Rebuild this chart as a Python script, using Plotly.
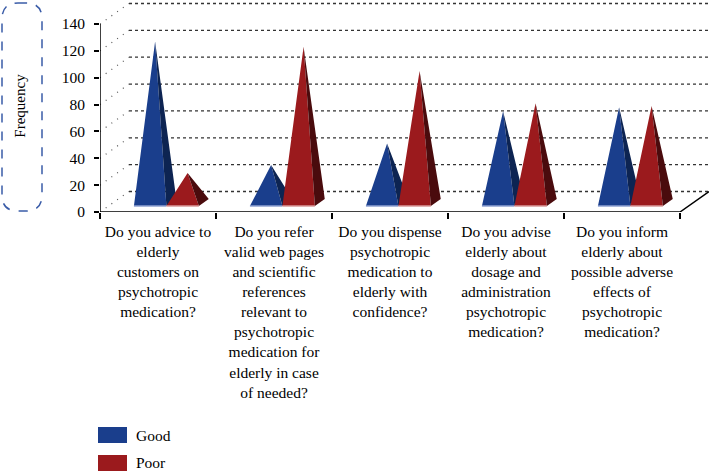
import plotly.graph_objects as go

# data
categories = [
    "Do you advice to<br>elderly<br>customers on<br>psychotropic<br>medication?",
    "Do you refer<br>valid web pages<br>and scientific<br>references<br>relevant to<br>psychotropic<br>medication for<br>elderly in case<br>of needed?",
    "Do you dispense<br>psychotropic<br>medication to<br>elderly with<br>confidence?",
    "Do you advise<br>elderly about<br>dosage and<br>administration<br>psychotropic<br>medication?",
    "Do you inform<br>elderly about<br>possible adverse<br>effects of<br>psychotropic<br>medication?",
]
good_values = [120, 28, 44, 68, 71]
poor_values = [22, 116, 98, 74, 72]
y_ticks = [0, 20, 40, 60, 80, 100, 120, 140]
series_names = ["Good", "Poor"]

FONT = "Liberation Serif, Times New Roman, serif"

# page geometry (pixels)
W, H = 709, 471
LEFT, BOTTOM = 100, 259
PLOT_W, PLOT_H = W - LEFT, H - BOTTOM
CAT_PX = 116            # one category band
UNIT_PX = 188 / 140     # one frequency unit
X_MAX = PLOT_W / CAT_PX
Y_MAX = PLOT_H / UNIT_PX

# fake 3d depth of the floor, in data units
DX = 29 / CAT_PX
DY = 20.5 / UNIT_PX
PW = 0.28               # pyramid front width
T0, T1 = 0.29, 0.63     # pyramid base front/back depth
TM = (T0 + T1) / 2

colors = {
    "Good": ("#1a3e8c", "#0d2452", "#8fa2d2"),
    "Poor": ("#9b1a1d", "#4a0b0d", "#d89a9a"),
}


def pyramids(values, shift):
    fx, fy, sx, sy, bx, by = [], [], [], [], [], []
    for i, v in enumerate(values):
        xl = i + 0.5 + shift
        fl = (xl + T0 * DX, T0 * DY)
        fr = (xl + PW + T0 * DX, T0 * DY)
        br = (xl + PW + T1 * DX, T1 * DY)
        apex = (xl + PW / 2 + TM * DX, TM * DY + v)
        fx += [fl[0], fr[0], apex[0], fl[0], None]
        fy += [fl[1], fr[1], apex[1], fl[1], None]
        sx += [fr[0], br[0], apex[0], fr[0], None]
        sy += [fr[1], br[1], apex[1], fr[1], None]
        bx += [fl[0], fr[0], None]
        by += [fl[1], fr[1], None]
    return fx, fy, sx, sy, bx, by


fig = go.Figure()

# back wall grid lines
for v in y_ticks:
    fig.add_trace(go.Scatter(
        x=[DX, X_MAX], y=[v + DY, v + DY], mode="lines",
        line=dict(color="#333333", width=1.3, dash="dot"),
        hoverinfo="skip", showlegend=False,
    ))
    # side wall
    fig.add_trace(go.Scatter(
        x=[0, DX], y=[v, v + DY], mode="lines",
        line=dict(color="#555555", width=1.2, dash="1px,6px"),
        hoverinfo="skip", showlegend=False,
    ))

# floor edge and y axis line
fig.add_trace(go.Scatter(
    x=[0, len(categories), len(categories) + DX], y=[0, 0, DY], mode="lines",
    line=dict(color="black", width=1.5), hoverinfo="skip", showlegend=False,
))
fig.add_trace(go.Scatter(
    x=[0, 0], y=[0, y_ticks[-1]], mode="lines",
    line=dict(color="black", width=1.5), hoverinfo="skip", showlegend=False,
))

for name, values, shift in [("Good", good_values, -PW), ("Poor", poor_values, 0)]:
    front, side, base = colors[name]
    fx, fy, sx, sy, bx, by = pyramids(values, shift)
    fig.add_trace(go.Scatter(
        x=fx, y=fy, mode="lines", fill="toself", fillcolor=front,
        line=dict(width=0, color=front), name=name, showlegend=False,
    ))
    fig.add_trace(go.Scatter(
        x=sx, y=sy, mode="lines", fill="toself", fillcolor=side,
        line=dict(width=0, color=side), name=name, showlegend=False,
    ))
    fig.add_trace(go.Scatter(
        x=bx, y=by, mode="lines", line=dict(width=1.5, color=base),
        hoverinfo="skip", showlegend=False,
    ))


def px(x):
    return (x - LEFT) / PLOT_W


def py(y):
    return (PLOT_H - y) / PLOT_H


# dashed rounded box around the axis title
x0, x1, y0, y1, r = 2, 42, 3, 211, 16
path = (
    f"M{px(x0 + r)},{py(y0)} L{px(x1 - r)},{py(y0)} "
    f"Q{px(x1)},{py(y0)} {px(x1)},{py(y0 + r)} L{px(x1)},{py(y1 - r)} "
    f"Q{px(x1)},{py(y1)} {px(x1 - r)},{py(y1)} L{px(x0 + r)},{py(y1)} "
    f"Q{px(x0)},{py(y1)} {px(x0)},{py(y1 - r)} L{px(x0)},{py(y0 + r)} "
    f"Q{px(x0)},{py(y0)} {px(x0 + r)},{py(y0)} Z"
)
shapes = [dict(type="path", xref="paper", yref="paper", path=path,
               line=dict(color="#3a5ca8", width=1.5, dash="dash"))]

# legend
annotations = []
for k, name in enumerate(series_names):
    top = 427 + k * 28
    shapes.append(dict(
        type="rect", xref="paper", yref="paper",
        x0=px(98), x1=px(127), y0=py(top), y1=py(top + 16),
        fillcolor=colors[name][0], line=dict(width=0),
    ))
    annotations.append(dict(
        xref="paper", yref="paper", x=px(134), y=py(top + 8),
        text=name, showarrow=False, xanchor="left", yanchor="middle",
        font=dict(family=FONT, size=15.5, color="black"),
    ))

fig.update_layout(
    width=W, height=H,
    margin=dict(l=LEFT, r=0, t=0, b=BOTTOM),
    font=dict(family=FONT, size=15, color="black"),
    plot_bgcolor="white", paper_bgcolor="white",
    shapes=shapes, annotations=annotations,
    xaxis=dict(
        range=[0, X_MAX], showgrid=False, zeroline=False, showline=False,
        tickmode="array", tickvals=[i + 0.5 for i in range(len(categories))],
        ticktext=categories, ticks="", ticklabelstandoff=8,
        tickfont=dict(family=FONT, size=15.5, color="black"),
        minor=dict(tickmode="array", tickvals=list(range(len(categories) + 1)),
                   ticks="outside", ticklen=6, tickwidth=1.5, tickcolor="black"),
    ),
    yaxis=dict(
        range=[0, Y_MAX], showgrid=False, zeroline=False, showline=False,
        tickmode="array", tickvals=y_ticks, ticks="outside", ticklen=5,
        tickwidth=1.5, tickcolor="black", ticklabelstandoff=6,
        tickfont=dict(family=FONT, size=15.5, color="black"),
        title=dict(text="Frequency", standoff=32,
                   font=dict(family=FONT, size=15, color="black")),
    ),
)

fig.write_html("out.html", config={"displayModeBar": False},
               post_script="document.body.style.margin='0';")
